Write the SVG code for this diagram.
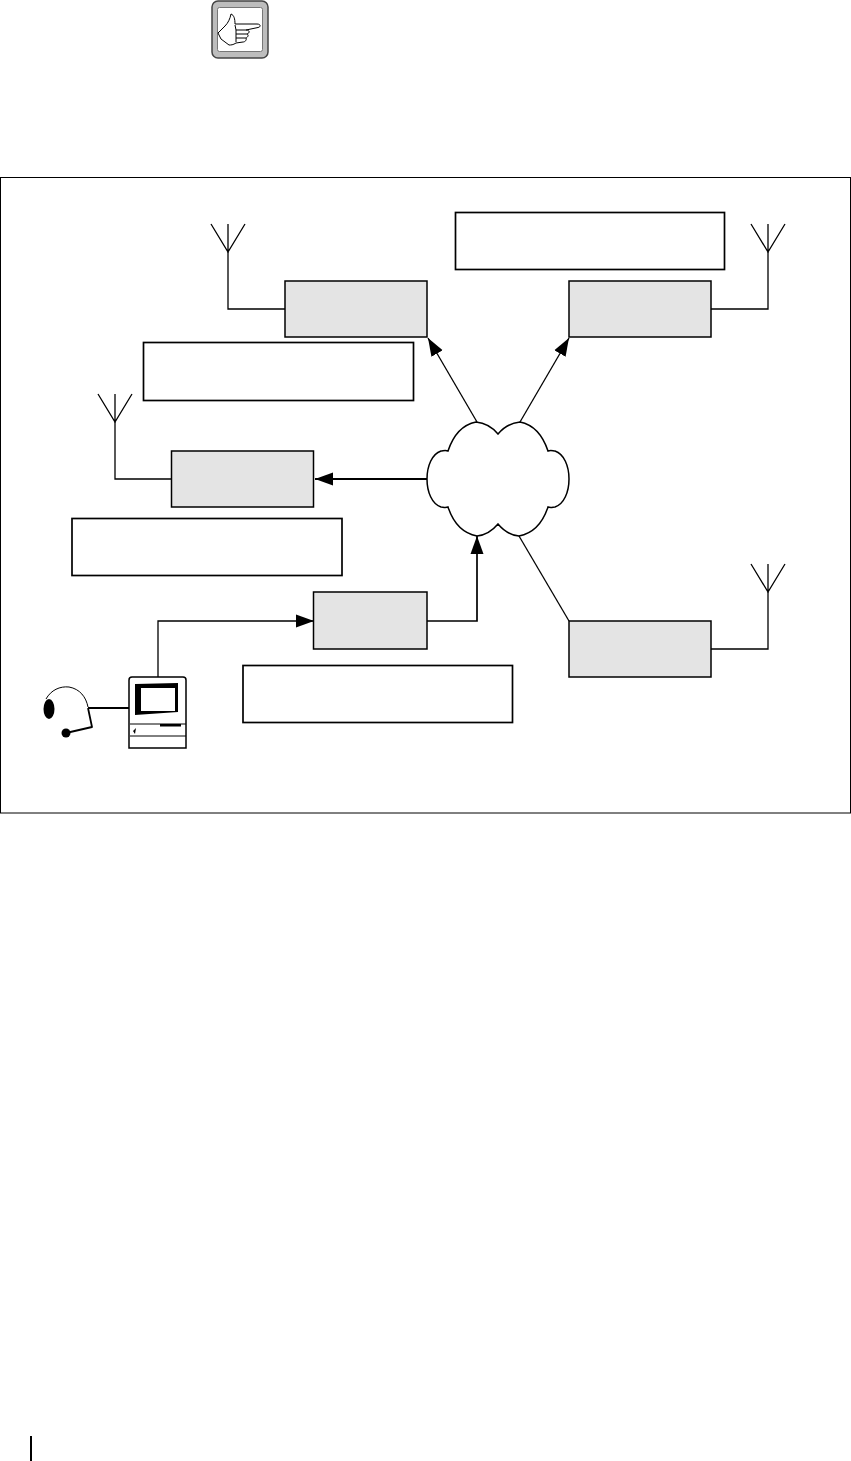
<svg xmlns="http://www.w3.org/2000/svg" width="851" height="1461" viewBox="0 0 851 1461">
<style>
.box{fill:#e4e4e4;stroke:#000;stroke-width:1.500}
.lab{fill:#fff;stroke:#000;stroke-width:1.700}
.ln{fill:none;stroke:#000;stroke-width:1.300}
.th{fill:none;stroke:#000;stroke-width:2}
</style>
<defs>
<marker id="ah" markerUnits="userSpaceOnUse" markerWidth="18" markerHeight="14" refX="18" refY="7" orient="auto"><path d="M0 0.500L18 7L0 13.500z" fill="#000"/></marker>
<g id="ant"><path class="ln" d="M-17 0L0 28L17 0M0 0V28"/></g>
</defs>
<rect width="851" height="1461" fill="#fff"/>
<g id="note-icon">
<rect x="212" y="1" width="56" height="57" rx="6" fill="#bdbdbd" stroke="#444" stroke-width="1.500"/>
<rect x="217.500" y="7.500" width="45" height="44" rx="2" fill="#fff" stroke="#777" stroke-width="1"/>
<path fill="none" stroke="#000" stroke-width="1" stroke-linejoin="round" d="M231 14C234 15 235 19 235 24H257C261 24 261 27 258 27.500L246 30C250 30 250 33 247 34C249 35 248 37 246 38C247 40 245 42 243 42L236 43C233 45 231 45 229 45L221 39L218 33L225 26C228 23 230 19 231 14ZM236 30L246 30M236 34L247 34M236 38L246 38M235 25L236 30V42"/>
</g>
<rect id="frame" x="0.500" y="177.500" width="850" height="635.500" fill="none" stroke="#000" stroke-width="1"/>
<g id="connectors">
<path class="ln" d="M477 422L428 338" marker-end="url(#ah)"/>
<path class="ln" d="M520 422L569 338" marker-end="url(#ah)"/>
<path class="ln" style="stroke-width:1.800" d="M427 479H315" marker-end="url(#ah)"/>
<path class="ln" style="stroke-width:1.700" d="M427 621H477V536" marker-end="url(#ah)"/>
<path class="ln" d="M519 536L569 621"/>
<path class="ln" d="M158 678V621H314" marker-end="url(#ah)"/>
<path class="ln" d="M228 252V309H285"/>
<path class="ln" d="M768 252V309H711"/>
<path class="ln" d="M115 422V479H172"/>
<path class="ln" d="M768 592V649H711"/>
<path class="th" d="M88 708H129"/>
</g>
<g id="antenna-1"><use href="#ant" x="228" y="224"/></g>
<g id="antenna-2"><use href="#ant" x="768" y="224"/></g>
<g id="antenna-3"><use href="#ant" x="115" y="394"/></g>
<g id="antenna-4"><use href="#ant" x="768" y="564"/></g>
<g id="node-1"><rect class="box" x="285" y="281" width="142" height="56"/></g>
<g id="node-2"><rect class="box" x="569" y="281" width="142" height="56"/></g>
<g id="node-3"><rect class="box" x="171.500" y="451" width="142" height="56"/></g>
<g id="node-4"><rect class="box" x="313.500" y="592" width="113.500" height="57"/></g>
<g id="node-5"><rect class="box" x="569" y="621" width="142" height="56"/></g>
<g id="label-1"><rect class="lab" x="455.500" y="212.500" width="269" height="57"/></g>
<g id="label-2"><rect class="lab" x="143.500" y="342.500" width="270" height="58"/></g>
<g id="label-3"><rect class="lab" x="72" y="518.500" width="270" height="57"/></g>
<g id="label-4"><rect class="lab" x="243" y="665.500" width="269.500" height="57"/></g>
<g id="cloud">
<path fill="#fff" stroke="#000" stroke-width="1.500" d="M476 422C487 423 493 428 498 434C503 428 509 423 520 422C535 425 543 436 548 451C551 450 553 451 555 451C564 454 569 466 569 479C569 492 564 504 555 507C553 507 551 508 548 507C543 522 535 533 519 536C509 535 503 530 498 524C493 530 487 535 477 536C461 533 453 522 448 507C445 508 443 507 441 507C432 504 427 492 427 479C427 466 432 454 441 451C443 451 445 450 448 451C453 436 461 425 476 422Z"/>
</g>
<g id="operator">
<path fill="none" stroke="#000" stroke-width="1" d="M46 699C51 690 60 686 69 687C80 689 86 697 88 707"/>
<ellipse cx="49" cy="709" rx="5.500" ry="10" fill="#000"/>
<path fill="none" stroke="#000" stroke-width="1.800" stroke-linejoin="round" d="M88 708L92 727L66 733"/>
<circle cx="66" cy="733" r="4.500" fill="#000"/>
<path fill="#fff" stroke="#000" stroke-width="1.500" d="M129 748V680Q129 677 132 677H183Q186 677 186 680V748Z"/>
<path fill="#000" d="M135 684L178 683V712L135 715Z"/>
<rect x="141" y="688" width="34" height="23" fill="#fff"/>
<path fill="none" stroke="#000" stroke-width="1" d="M130 724H186M130 736H186"/>
<path fill="#000" d="M160 724H181V726.500H160ZM133 731L136 728L135 734Z"/>
</g>
<path id="margin-bar" d="M31 1436V1461" stroke="#000" stroke-width="2"/>
</svg>
